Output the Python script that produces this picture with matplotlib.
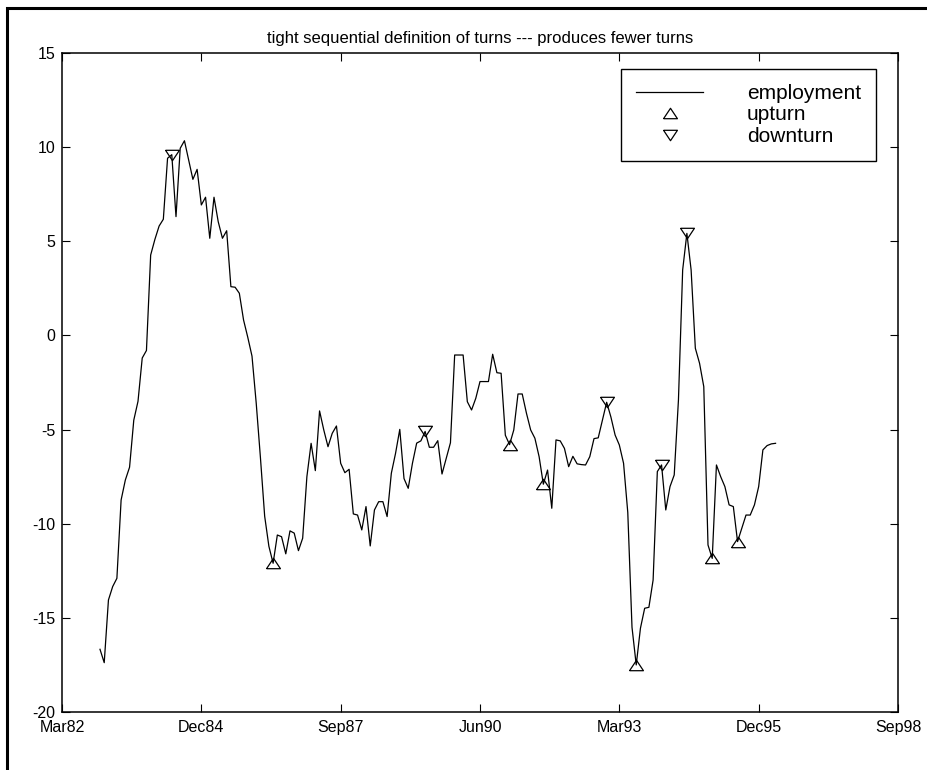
import numpy as np
import matplotlib
matplotlib.use('Agg')
import matplotlib.pyplot as plt
from matplotlib.lines import Line2D
from matplotlib.patches import Rectangle

plt.rcParams['font.family'] = ['Liberation Sans', 'DejaVu Sans']
plt.rcParams['axes.unicode_minus'] = False

# monthly employment series, first value is Dec82 (month 9 counted from Mar82)
first_month = 9
employment = [
    -16.67, -17.38, -14.05, -13.34, -12.9, -8.74, -7.68, -7.0, -4.5, -3.5,
    -1.2, -0.8, 4.27, 5.1, 5.81, 6.17, 9.41, 9.6, 6.31, 9.94,
    10.34, 9.32, 8.29, 8.82, 6.93, 7.34, 5.16, 7.34, 6.04, 5.16,
    5.56, 2.59, 2.56, 2.24, 0.82, -0.1, -1.1, -3.6, -6.5, -9.6,
    -11.2, -12.1, -10.6, -10.69, -11.6, -10.38, -10.5, -11.43, -10.77, -7.5,
    -5.73, -7.18, -4.01, -5.02, -5.91, -5.2, -4.81, -6.79, -7.29, -7.11,
    -9.48, -9.54, -10.33, -9.09, -11.18, -9.27, -8.83, -8.83, -9.62, -7.32,
    -6.26, -4.99, -7.6, -8.12, -6.79, -5.72, -5.6, -5.1, -5.94, -5.94,
    -5.59, -7.36, -6.52, -5.7, -1.04, -1.04, -1.04, -3.52, -3.96, -3.34,
    -2.45, -2.45, -2.45, -1.0, -1.98, -2.01, -5.3, -5.8, -5.02, -3.11,
    -3.11, -4.13, -5.02, -5.46, -6.44, -7.9, -7.15, -9.18, -5.55, -5.6,
    -6.0, -6.97, -6.42, -6.82, -6.86, -6.88, -6.44, -5.48, -5.44, -4.49,
    -3.55, -4.33, -5.29, -5.82, -6.79, -9.4, -15.5, -17.5, -15.55, -14.49,
    -14.44, -12.99, -7.23, -6.88, -9.27, -8.03, -7.41, -3.43, 3.48, 5.42,
    3.48, -0.68, -1.48, -2.72, -11.13, -11.84, -6.88, -7.5, -8.03, -9.0,
    -9.09, -10.95, -10.24, -9.54, -9.54, -9.0, -8.03, -6.08, -5.85, -5.76,
    -5.73,
]

# turning points, as months counted from Mar82
upturn_months = [50, 106, 114, 136, 154, 160]
downturn_months = [26, 86, 129, 142, 148]

tick_months = [0, 33, 66, 99, 132, 165, 198]
tick_labels = ['Mar82', 'Dec84', 'Sep87', 'Jun90', 'Mar93', 'Dec95', 'Sep98']

months = np.arange(len(employment)) + first_month
emp = np.array(employment)
up_y = emp[np.array(upturn_months) - first_month]
down_y = emp[np.array(downturn_months) - first_month]

# triangles a bit flatter than matplotlib's default ones
tri_up = [(-1, -0.75), (1, -0.75), (0, 0.75), (-1, -0.75)]
tri_down = [(-1, 0.75), (1, 0.75), (0, -0.75), (-1, 0.75)]

fig = plt.figure(figsize=(9.28, 7.7), dpi=100)
ax = fig.add_axes([62 / 928, 58 / 770, 836 / 928, 659 / 770])

ax.plot(months, emp, color='black', lw=0.9)
ax.plot(upturn_months, up_y, ls='none', marker=tri_up, ms=10,
        mfc='none', mec='black', mew=0.9)
ax.plot(downturn_months, down_y, ls='none', marker=tri_down, ms=10,
        mfc='none', mec='black', mew=0.9)

ax.set_xlim(0, 198)
ax.set_ylim(-20, 15)
ax.set_xticks(tick_months)
ax.set_xticklabels(tick_labels)
ax.set_yticks(np.arange(-20, 16, 5))
ax.tick_params(direction='in', length=6, width=0.8, labelsize=11.5,
               top=True, right=True)
ax.tick_params(axis='x', pad=6)
ax.tick_params(axis='y', pad=5)
for sp in ax.spines.values():
    sp.set_linewidth(1.1)

fig.text(480 / 928, 1 - 38 / 770,
         'tight sequential definition of turns --- produces fewer turns',
         ha='center', va='center', fontsize=12)

handles = [
    Line2D([], [], color='black', lw=0.9),
    Line2D([], [], ls='none', marker=tri_up, ms=10, mfc='none', mec='black', mew=0.9),
    Line2D([], [], ls='none', marker=tri_down, ms=10, mfc='none', mec='black', mew=0.9),
]
leg = ax.legend(handles, ['employment', 'upturn', 'downturn'],
                loc='upper right', bbox_to_anchor=((876 - 62) / 836, 1 - 16 / 659),
                fontsize=15, handlelength=3.2, handletextpad=2.1,
                labelspacing=0.12, borderpad=0.72, borderaxespad=0,
                fancybox=False, framealpha=1, edgecolor='black')
leg.get_frame().set_linewidth(1.0)

# outer frame, only its left and top edges fall inside the image
fig.add_artist(Rectangle((7 / 928, -0.2), 1.2, 1.2 - 8 / 770, fill=False,
                         lw=2.2, edgecolor='black', transform=fig.transFigure))

fig.savefig('out.png', dpi=100)
